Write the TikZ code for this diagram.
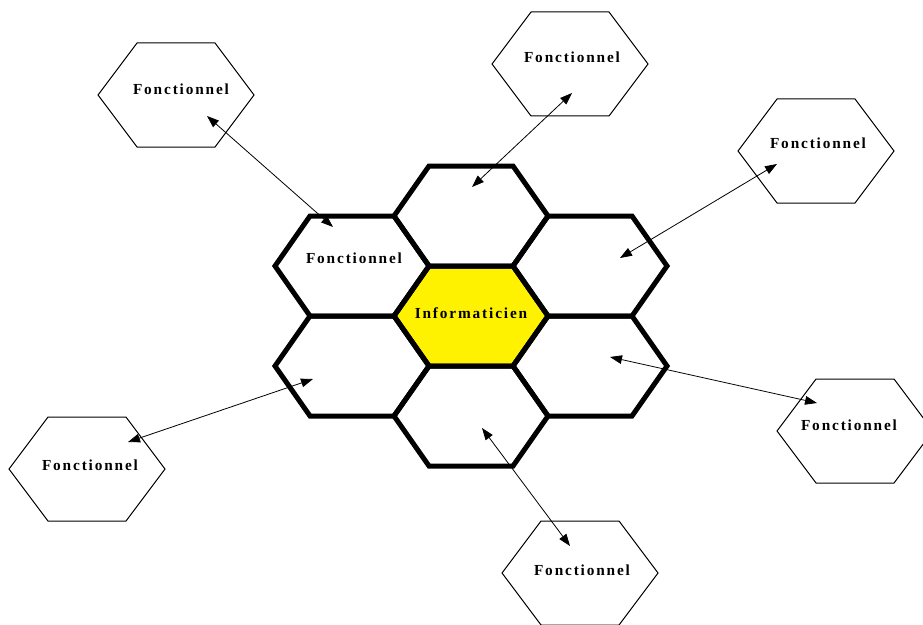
\documentclass[tikz,border=0pt]{standalone}
\usepackage{fontspec}
\setmainfont{Liberation Serif}
\usetikzlibrary{arrows.meta}

\begin{document}
\begin{tikzpicture}[x=0.75pt, y=-0.75pt,
  cell/.style={draw=black, line width=3.75pt, line join=miter},
  outhex/.style={draw=black, line width=0.75pt},
  hexin/.style={insert path={+(-77,0) -- +(-42,-50) -- +(42,-50) -- +(77,0) -- +(42,50) -- +(-42,50) -- cycle}},
  hexout/.style={insert path={+(-78,0) -- +(-39,-52) -- +(39,-52) -- +(78,0) -- +(39,52) -- +(-39,52) -- cycle}},
  lbl/.style={font=\fontsize{11.5}{13}\selectfont\bfseries\addfontfeature{LetterSpace=12}, inner sep=0pt},
  link/.style={{Triangle[length=9pt,width=6.5pt]}-{Triangle[length=9pt,width=6.5pt]}, line width=0.6pt}
]
\clip (0,0) rectangle (923,624);

% honeycomb
\coordinate (hc) at (471,316);
\fill[yellow] (hc) [hexin];
\foreach \cx/\cy in {471/216, 352/266, 590/266, 352/366, 590/366, 471/416, 471/316}
  \draw[cell] (\cx,\cy) [hexin];
\node[lbl] (info) at (471,313) {Informaticien};
\node[lbl] (inul) at (354,258) {Fonctionnel};

% outer hexagons
\foreach \cx/\cy in {176/95, 570/64, 816/151, 855/431, 87/469, 580/573}
  \draw[outhex] (\cx,\cy) [hexout];
\node[lbl] (otl) at (181,89) {Fonctionnel};
\node[lbl] (otc) at (572,57) {Fonctionnel};
\node[lbl] (oru) at (818,143) {Fonctionnel};
\node[lbl] (orl) at (849,425) {Fonctionnel};
\node[lbl] (oll) at (90,465) {Fonctionnel};
\node[lbl] (obt) at (582,570) {Fonctionnel};

% arrow ends
\coordinate (tl1) at (207,116);  \coordinate (tl2) at (333,227);
\coordinate (tc1) at (572,93);   \coordinate (tc2) at (472,187);
\coordinate (ru1) at (777,164);  \coordinate (ru2) at (620,258);
\coordinate (rl1) at (817,403);  \coordinate (rl2) at (610,357);
\coordinate (ll1) at (128,442);  \coordinate (ll2) at (313,379);
\coordinate (bt1) at (570,546);  \coordinate (bt2) at (482,428);
\draw[link] (tl1) -- (tl2);
\draw[link] (tc1) -- (tc2);
\draw[link] (ru1) -- (ru2);
\draw[link] (rl1) -- (rl2);
\draw[link] (ll1) -- (ll2);
\draw[link] (bt1) -- (bt2);
\end{tikzpicture}
\end{document}
